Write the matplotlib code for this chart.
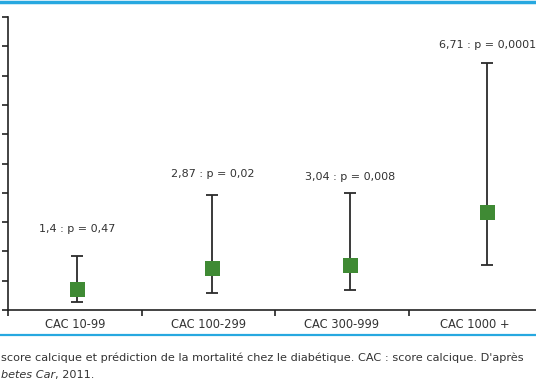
import numpy as np
import matplotlib
matplotlib.use("Agg")
import matplotlib.pyplot as plt
from matplotlib.lines import Line2D

plt.rcParams['font.family'] = ['DejaVu Sans']

# hazard ratio by calcium score class, with 95% CI
categories = ["CAC 10-99", "CAC 100-299", "CAC 300-999", "CAC 1000 +"]
hr = [1.4, 2.87, 3.04, 6.71]
ci_low = [0.57, 1.18, 1.34, 3.1]
ci_high = [3.7, 7.85, 7.97, 16.85]
pvals = ["0,47", "0,02", "0,008", "0,0001"]
hr_txt = ["1,4", "2,87", "3,04", "6,71"]

W, H = 536, 386
fig = plt.figure(figsize=(W/100, H/100), dpi=100)

# axes runs a bit past the right edge like the cropped original
ax = fig.add_axes([8/W, 1-310/H, 534/W, 293/H])
ax.set_xlim(0, 4)
ax.set_ylim(0, 20)

shift = [0.02, 0.03, 0.06, 0.09]   # points sit a little right of centre
x = np.arange(4) + 0.5 + np.array(shift)
yerr = [np.array(hr) - np.array(ci_low), np.array(ci_high) - np.array(hr)]

ax.errorbar(x, hr, yerr=yerr, fmt='none', ecolor='#2b2b2b', elinewidth=1.3,
            capsize=4.3, capthick=1.3, zorder=2)
ax.plot(x, hr, 's', color='#3f8a34', markersize=10.8, markeredgewidth=0, zorder=3)

label_y = [5.5, 9.3, 9.1, 18.1]
for xi, yi, h, p in zip(x, label_y, hr_txt, pvals):
    ax.text(xi, yi, f"{h} : p = {p}", ha='center', va='center',
            fontsize=8, color='#333333')

for s in ['top', 'right']:
    ax.spines[s].set_visible(False)
for s in ['left', 'bottom']:
    ax.spines[s].set_linewidth(1.2)
    ax.spines[s].set_color('#222222')

ax.set_yticks(np.arange(0, 21, 2))
ax.set_yticklabels([])
ax.set_xticks(np.arange(0, 5))
ax.set_xticklabels([])
ax.tick_params(direction='out', length=4, width=1.2, color='#222222')
ax.set_xticks(np.arange(4) + 0.5, minor=True)
ax.set_xticklabels(categories, minor=True, fontsize=8.3, color='#333333')
ax.tick_params(axis='x', which='minor', length=0, pad=6)

# blue rules
fig.add_artist(Line2D([0, 1], [1-1.5/H, 1-1.5/H], color='#27a8e0', lw=2.5))
fig.add_artist(Line2D([0, 1], [1-335/H, 1-335/H], color='#27a8e0', lw=1.6))

# caption
fig.text(1/W, 1-358/H, "score calcique et prédiction de la mortalité chez le diabétique. "
         "CAC : score calcique. D'après", fontsize=8.1, color='#333333', va='center')
t1 = fig.text(1/W, 1-375/H, "betes Car", fontsize=8.1, color='#333333',
              va='center', style='italic')
ax.annotate(", 2011.", xy=(1, 0.5), xycoords=t1, va='center', ha='left',
            fontsize=8.1, color='#333333', annotation_clip=False)

fig.savefig("out.png", dpi=100)
